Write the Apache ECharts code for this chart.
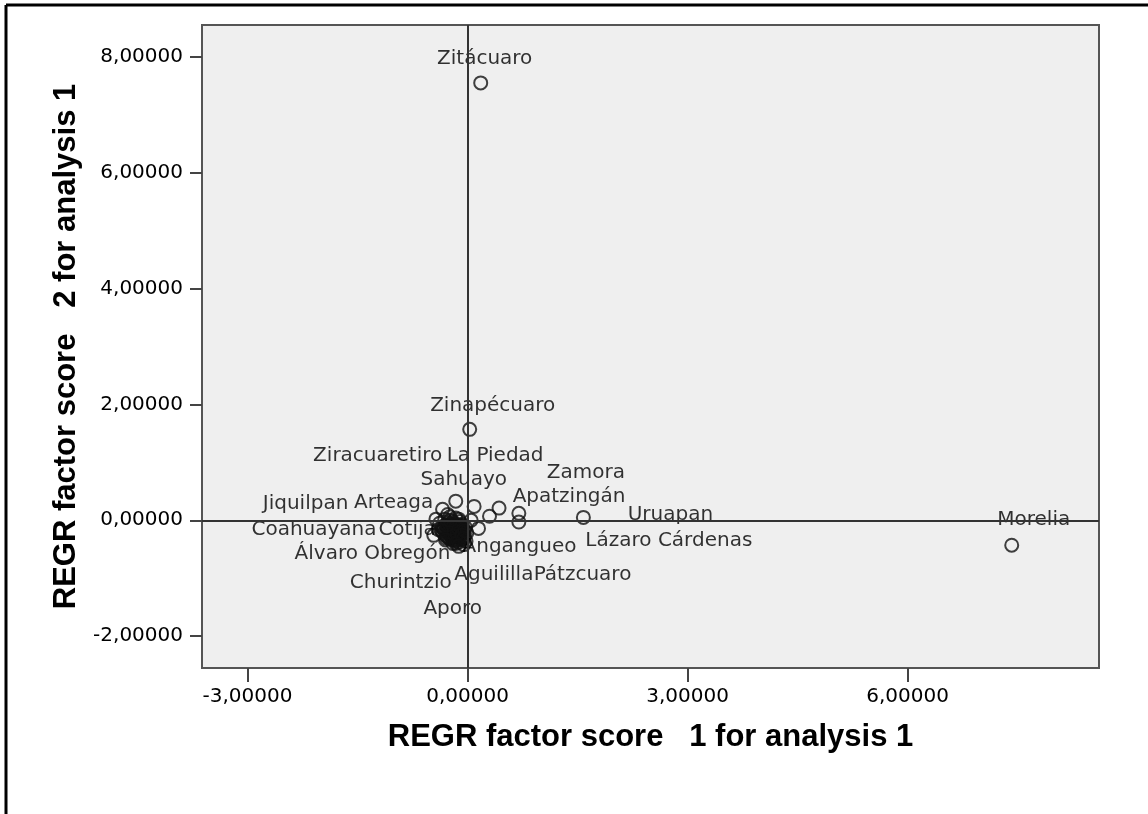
<!DOCTYPE html>
<html>
<head>
<meta charset="utf-8">
<script src="https://cdn.jsdelivr.net/npm/echarts@6/dist/echarts.min.js"></script>
<style>
  html, body { margin: 0; padding: 0; background: #fff; }
  #chart { width: 1148px; height: 814px; }
</style>
</head>
<body>
<div id="chart"></div>
<script>
// labelled cases (municipalities)
const names = ['Zitácuaro', 'Zinapécuaro', 'Morelia', 'Uruapan', 'Zamora', 'Lázaro Cárdenas',
  'Apatzingán', 'Pátzcuaro', 'La Piedad', 'Sahuayo', 'Jiquilpan', 'Coahuayana', 'Angangueo',
  'Ziracuaretiro', 'Arteaga', 'Cotija', 'Álvaro Obregón', 'Churintzio', 'Aguililla', 'Aporo'];
const factor1 = [0.18, 0.03, 7.42, 1.58, 0.70, 0.70, 0.43, 0.30, 0.09, -0.16, -0.34, -0.43, 0.15,
  -0.27, -0.23, -0.36, -0.30, -0.16, -0.05, -0.12];
const factor2 = [7.55, 1.57, -0.43, 0.05, 0.12, -0.03, 0.21, 0.07, 0.24, 0.33, 0.19, 0.02, -0.14,
  0.10, 0.00, -0.17, -0.34, -0.40, -0.31, -0.45];

// the unlabelled cases piled up near the origin
const clusterF1 = [-0.38, -0.35, -0.33, -0.31, -0.30, -0.29, -0.28, -0.27, -0.26, -0.25, -0.24, -0.23,
  -0.22, -0.21, -0.20, -0.19, -0.18, -0.17, -0.16, -0.15, -0.14, -0.13, -0.12, -0.11, -0.10, -0.09,
  -0.08, -0.07, -0.06, -0.05, -0.04, -0.03, -0.02, -0.21, -0.18, -0.24, -0.13, -0.16, -0.27, -0.10,
  -0.20, -0.33, -0.12, -0.07, -0.01, 0.05, -0.46, -0.40,
  -0.32, -0.28, -0.25, -0.22, -0.19, -0.17, -0.14, -0.11, -0.08, -0.26, -0.23, -0.20, -0.15, -0.12,
  -0.09, -0.30, -0.27, -0.21, -0.18, -0.15, -0.24, -0.19, -0.13, -0.10, -0.29, -0.22, -0.17, -0.11,
  -0.06, -0.25, -0.20, -0.16, -0.14, -0.23, -0.18, -0.12, -0.35, -0.08, -0.28, -0.04];
const clusterF2 = [-0.05, -0.12, -0.22, 0.02, -0.08, -0.18, -0.28, -0.04, -0.14, -0.24, 0.06, -0.10,
  -0.20, -0.30, -0.02, -0.12, -0.22, -0.36, 0.04, -0.08, -0.18, -0.27, -0.38, -0.02, -0.13, -0.23,
  -0.33, -0.07, -0.17, -0.42, -0.27, -0.12, -0.36, -0.16, -0.06, -0.32, -0.10, -0.27, -0.20, -0.30,
  -0.40, -0.14, 0.02, -0.20, -0.22, 0.00, -0.26, -0.16,
  -0.15, -0.10, -0.18, -0.26, -0.16, -0.29, -0.21, -0.25, -0.15, -0.30, -0.06, -0.33, -0.31, -0.20,
  -0.09, -0.25, -0.12, -0.24, -0.34, -0.14, -0.22, -0.09, -0.34, -0.19, -0.31, -0.14, -0.26, -0.08,
  -0.28, -0.20, -0.28, -0.11, -0.23, -0.26, -0.18, -0.15, -0.19, -0.25, -0.08, -0.18];

const xTicks = [-3, 0, 3, 6];
const yTicks = [-2, 0, 2, 4, 6, 8];

// where SPSS pushed each case label (px from the point)
const labelOffset = {
  'Zitácuaro': [4, -24], 'Zinapécuaro': [23, -24], 'Morelia': [22, -25], 'Uruapan': [87, -3],
  'Zamora': [67, -41], 'Lázaro Cárdenas': [150, 19], 'Apatzingán': [70, -11], 'Pátzcuaro': [93, 59],
  'La Piedad': [21, -51], 'Sahuayo': [8, -21], 'Jiquilpan': [-137, -5], 'Coahuayana': [-122, 11],
  'Angangueo': [41, 18], 'Ziracuaretiro': [-70, -59], 'Arteaga': [-57, -17], 'Cotija': [-34, 0],
  'Álvaro Obregón': [-73, 14], 'Churintzio': [-55, 39], 'Aguililla': [30, 37], 'Aporo': [-6, 62]
};

const fmt = v => v.toFixed(5).replace('.', ',');

const ringStyle = { color: 'rgba(0,0,0,0)', borderColor: '#111', borderWidth: 2 };

const cases = names.map((n, i) => ({
  value: [factor1[i], factor2[i]],
  name: n,
  label: { offset: labelOffset[n] }
}));
const cluster = clusterF1.map((x, i) => [x, clusterF2[i]]);

const chart = echarts.init(document.getElementById('chart'));
chart.setOption({
  animation: false,
  backgroundColor: '#fff',
  grid: {
    left: 202, top: 25, right: 49, bottom: 146,
    show: true, backgroundColor: '#efefef', borderColor: '#555', borderWidth: 2
  },
  xAxis: {
    type: 'value', min: -3.62, max: 8.61,
    name: 'REGR factor score   1 for analysis 1', nameLocation: 'middle', nameGap: 54,
    nameTextStyle: { fontFamily: 'Liberation Sans', fontWeight: 'bold', fontSize: 31, color: '#000' },
    axisLine: { show: false, onZero: false },
    splitLine: { show: false },
    axisTick: { show: true, customValues: xTicks, length: 14, lineStyle: { color: '#444', width: 2 } },
    axisLabel: { customValues: xTicks, formatter: fmt, margin: 19,
      fontFamily: 'DejaVu Sans', fontSize: 20, color: '#000' }
  },
  yAxis: {
    type: 'value', min: -2.55, max: 8.55,
    name: 'REGR factor score   2 for analysis 1', nameLocation: 'middle', nameGap: 117,
    nameTextStyle: { fontFamily: 'Liberation Sans', fontWeight: 'bold', fontSize: 31, color: '#000' },
    axisLine: { show: false, onZero: false },
    splitLine: { show: false },
    axisTick: { show: true, customValues: yTicks, length: 12, lineStyle: { color: '#444', width: 2 } },
    axisLabel: { customValues: yTicks, formatter: fmt, margin: 19,
      fontFamily: 'DejaVu Sans', fontSize: 20, color: '#000' }
  },
  series: [
    {
      name: 'cluster',
      type: 'scatter',
      symbol: 'circle',
      symbolSize: 13,
      itemStyle: ringStyle,
      data: cluster,
      markLine: {
        silent: true,
        symbol: ['none', 'none'],
        label: { show: false },
        lineStyle: { type: 'solid', color: '#333', width: 2 },
        data: [{ xAxis: 0 }, { yAxis: 0 }]
      }
    },
    {
      name: 'cases',
      type: 'scatter',
      symbol: 'circle',
      symbolSize: 13,
      itemStyle: ringStyle,
      label: {
        show: true, position: 'inside', formatter: '{b}',
        fontFamily: 'DejaVu Sans', fontSize: 20, color: '#000'
      },
      data: cases
    }
  ],
  graphic: [
    { type: 'line', shape: { x1: 6, y1: 5, x2: 1148, y2: 5 }, style: { stroke: '#000', lineWidth: 3 } },
    { type: 'line', shape: { x1: 6, y1: 5, x2: 6, y2: 814 }, style: { stroke: '#000', lineWidth: 3 } }
  ]
});
</script>
</body>
</html>
